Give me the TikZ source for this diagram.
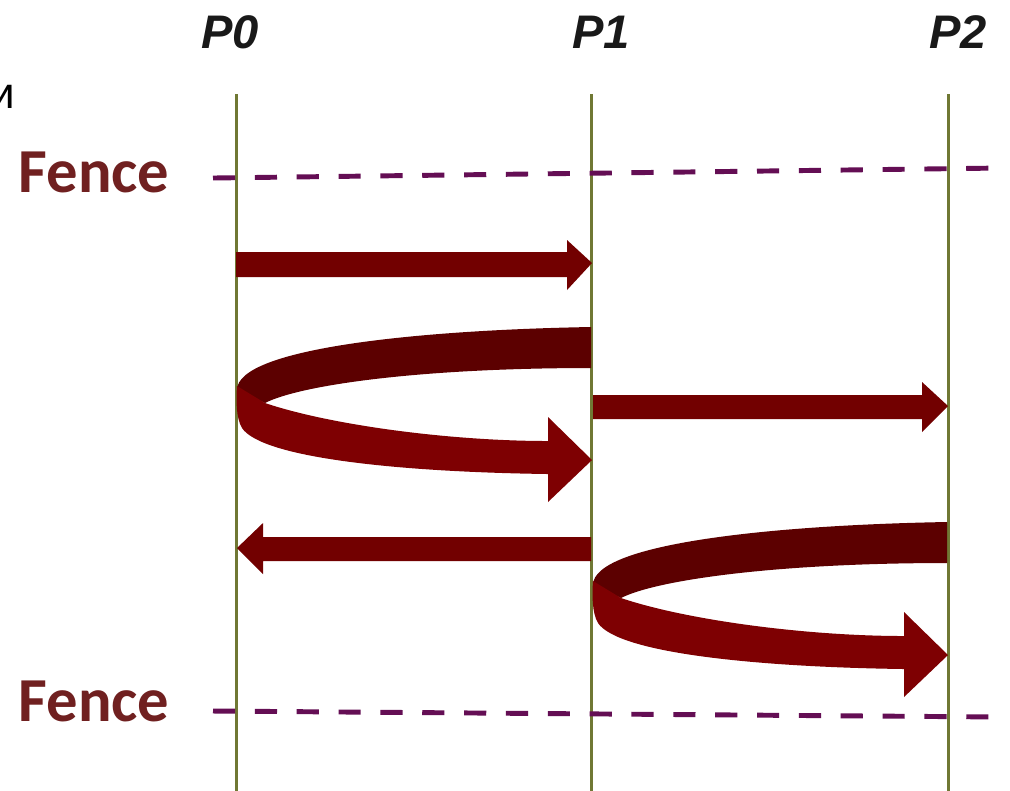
\documentclass[tikz,border=0pt]{standalone}
\usepackage{fontspec}
\newfontfamily\carlito{Carlito}
\newfontfamily\libsans{Liberation Sans}
\definecolor{lifeg}{RGB}{112,120,52}
\definecolor{fencec}{RGB}{100,14,84}
\definecolor{fencetxt}{RGB}{112,32,32}
\definecolor{arrowc}{RGB}{114,0,0}
\definecolor{arrowdark}{RGB}{92,0,0}
\definecolor{arrowbright}{RGB}{126,0,2}
\tikzset{
  lifeline/.style={draw=lifeg, line width=0.85pt},
  fenceline/.style={draw=fencec, line width=1.4pt, dash pattern=on 6.3pt off 5.6pt},
  fencelabel/.style={anchor=base west, inner sep=0pt, text=fencetxt, font=\carlito\bfseries\fontsize{17.8}{20}\selectfont},
  plabel/.style={anchor=base, inner sep=0pt, text=black!90, font=\libsans\bfseries\itshape\fontsize{13.4}{16}\selectfont},
  blockarrow/.style={fill=arrowc, draw=none},
}
\begin{document}
\begin{tikzpicture}[x=0.01cm, y=-0.01cm]
\useasboundingbox (0,0) rectangle (1010,790);
\fill[white] (0,0) rectangle (1010,790);

% stray cut-off letter
\node[anchor=base west, inner sep=0pt, font=\libsans\fontsize{12.5}{15}\selectfont] (stray) at (-10,108) {и};

% process labels
\node[plabel] (p0) at (230,48) {P0};
\node[plabel] (p1) at (601,48) {P1};
\node[plabel] (p2) at (958,48) {P2};

% lifelines
\coordinate (l0t) at (236,94); \coordinate (l0b) at (236,795);
\coordinate (l1t) at (591,94); \coordinate (l1b) at (591,795);
\coordinate (l2t) at (948,94); \coordinate (l2b) at (948,795);
\draw[lifeline] (l0t) -- (l0b);
\draw[lifeline] (l1t) -- (l1b);
\draw[lifeline] (l2t) -- (l2b);

% fences
\node[fencelabel] (fence1) at (18,192) {Fence};
\node[fencelabel] (fence2) at (18,721) {Fence};
\coordinate (f1a) at (213,178); \coordinate (f1b) at (1002,168);
\coordinate (f2a) at (213,711); \coordinate (f2b) at (1002,717);
\draw[fenceline] (f1a) -- (f1b);
\draw[fenceline] (f2a) -- (f2b);

% straight arrow P0 -> P1
\fill[blockarrow] (236,252) -- (567,252) -- (567,240) -- (592,263) -- (567,290) -- (567,277) -- (236,277) -- cycle;
% straight arrow P1 -> P2
\fill[blockarrow] (593,395) -- (922,395) -- (922,382) -- (948,406) -- (922,432) -- (922,419) -- (593,419) -- cycle;
% straight arrow P1 -> P0
\fill[blockarrow] (591,537) -- (263,537) -- (263,523) -- (237,548) -- (263,574) -- (263,561) -- (591,561) -- cycle;

% curved (3D ribbon) arrows
\foreach \dx/\dy in {0/0, 356/195}{
  \begin{scope}[shift={(\dx,\dy)}]
    \fill[arrowdark] (591,327) .. controls (420,330) and (237,348) .. (237,390)
      -- (265,403) .. controls (300,385) and (420,368) .. (591,368) -- cycle;
    \fill[arrowbright] (237,386) -- (265,403) .. controls (330,425) and (450,441) .. (548,441)
      -- (548,417) -- (592,460) -- (548,502) -- (548,474)
      .. controls (400,472) and (262,458) .. (242,428)
      .. controls (236,418) and (236,400) .. (237,386) -- cycle;
  \end{scope}
}
\end{tikzpicture}
\end{document}
